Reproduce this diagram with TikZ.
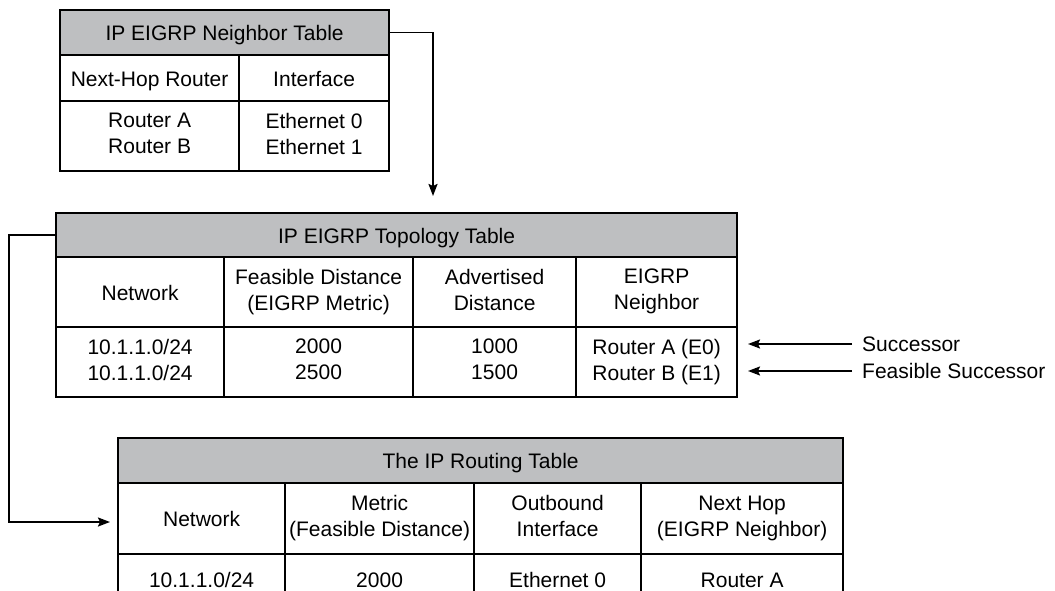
\documentclass[tikz,border=0pt]{standalone}
\usepackage{fontspec}
\setmainfont{Liberation Sans}
\usetikzlibrary{arrows.meta}
\definecolor{grigio}{RGB}{190,191,193}

\begin{document}
\begin{tikzpicture}[
    x=1pt, y=-1pt,
    font=\fontsize{21}{26}\selectfont,
    cella/.style={draw,line width=2.2pt,anchor=north west,inner sep=0pt,align=center,
                  execute at begin node={\rule{0pt}{21pt}},
                  execute at end node={\rule[-5pt]{0pt}{5pt}}},
    testa/.style={cella,fill=grigio},
    etichetta/.style={anchor=west,inner sep=0pt},
    freccia/.style={line width=1.8pt,-{Stealth[length=12pt,width=9pt,inset=2pt]}}]

  \useasboundingbox (0,0) rectangle (1055,591);
  \clip (0,0) rectangle (1055,591);

  % tabella dei vicini
  \node[testa,minimum width=329pt,minimum height=45pt] (a)  at (59,9)    {IP EIGRP Neighbor Table};
  \node[cella,minimum width=179pt,minimum height=46pt] (a1) at (59,54)   {Next-Hop Router};
  \node[cella,minimum width=150pt,minimum height=46pt] (a2) at (238,54)  {Interface};
  \node[cella,minimum width=179pt,minimum height=70pt] (a3) at (59,100)  {Router A\\Router B};
  \node[cella,minimum width=150pt,minimum height=70pt] (a4) at (238,100) {Ethernet 0\\Ethernet 1};

  % tabella della topologia
  \node[testa,minimum width=681pt,minimum height=44pt] (b)  at (55,212)  {IP EIGRP Topology Table};
  \node[cella,minimum width=168pt,minimum height=70pt] (b1) at (55,256)  {Network};
  \node[cella,minimum width=189pt,minimum height=70pt] (b2) at (223,256) {Feasible Distance\\(EIGRP Metric)};
  \node[cella,minimum width=163pt,minimum height=70pt] (b3) at (412,256) {Advertised\\Distance};
  \node[cella,minimum width=161pt,minimum height=70pt] (b4) at (575,256) {EIGRP\\Neighbor};
  \node[cella,minimum width=168pt,minimum height=70pt] (b5) at (55,326)  {10.1.1.0/24\\10.1.1.0/24};
  \node[cella,minimum width=189pt,minimum height=70pt] (b6) at (223,326) {2000\\2500};
  \node[cella,minimum width=163pt,minimum height=70pt] (b7) at (412,326) {1000\\1500};
  \node[cella,minimum width=161pt,minimum height=70pt] (b8) at (575,326) {Router A (E0)\\Router B (E1)};

  % tabella di instradamento (tagliata in basso)
  \node[testa,minimum width=725pt,minimum height=45pt] (c)  at (117,437) {The IP Routing Table};
  \node[cella,minimum width=167pt,minimum height=71pt] (c1) at (117,482) {Network};
  \node[cella,minimum width=189pt,minimum height=71pt] (c2) at (284,482) {Metric\\(Feasible Distance)};
  \node[cella,minimum width=167pt,minimum height=71pt] (c3) at (473,482) {Outbound\\Interface};
  \node[cella,minimum width=202pt,minimum height=71pt] (c4) at (640,482) {Next Hop\\(EIGRP Neighbor)};
  \node[cella,minimum width=167pt,minimum height=50pt] (c5) at (117,553) {10.1.1.0/24};
  \node[cella,minimum width=189pt,minimum height=50pt] (c6) at (284,553) {2000};
  \node[cella,minimum width=167pt,minimum height=50pt] (c7) at (473,553) {Ethernet 0};
  \node[cella,minimum width=202pt,minimum height=50pt] (c8) at (640,553) {Router A};

  % etichette a destra
  \node[etichetta] (s)  at (862,344) {Successor};
  \node[etichetta] (fs) at (862,371) {Feasible Successor};

  \coordinate (p)  at (433,196);   % punta sopra la topologia
  \coordinate (r)  at (9,522);     % angolo in basso a sinistra
  \coordinate (q)  at (110,522);   % punta verso l'instradamento
  \coordinate (s1) at (748,344);
  \coordinate (s2) at (748,371);

  \draw[freccia] (a.east) -| (p);
  \draw[freccia] (b.west) -| (r) -- (q);
  \draw[freccia,shorten <=10pt] (s.west)  -- (s1);
  \draw[freccia,shorten <=10pt] (fs.west) -- (s2);

\end{tikzpicture}
\end{document}
